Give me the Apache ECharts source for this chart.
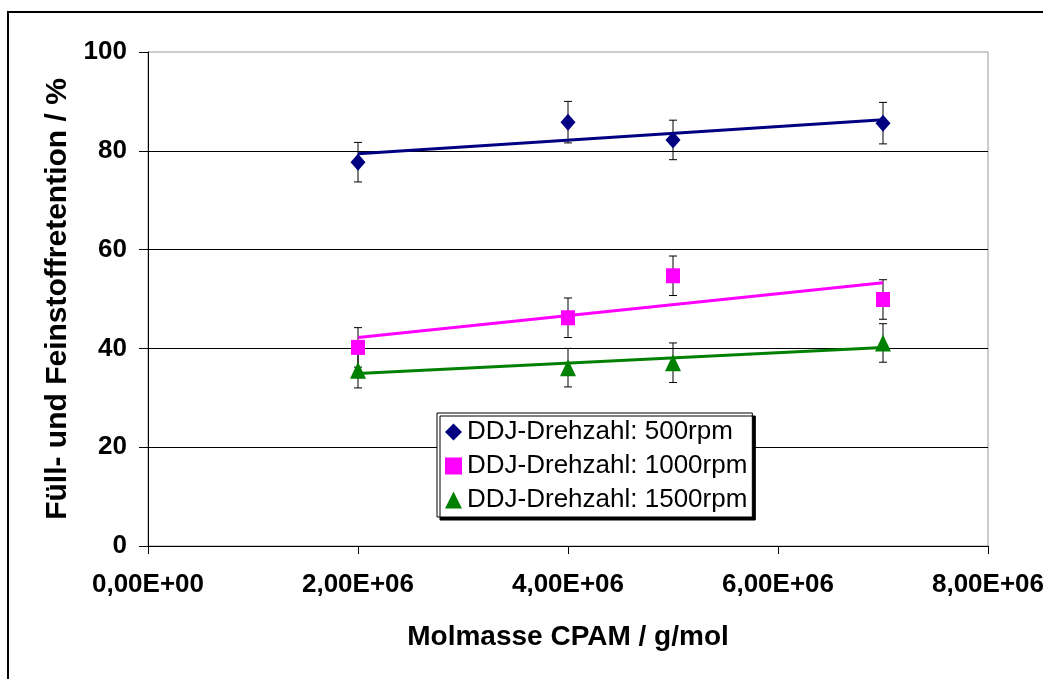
<!DOCTYPE html>
<html>
<head>
<meta charset="utf-8">
<title>Retention</title>
<script src="https://cdn.jsdelivr.net/npm/echarts@6/dist/echarts.min.js"></script>
<style>
  html, body { margin: 0; padding: 0; background: #fff; }
  #main { width: 1043px; height: 679px; }
</style>
</head>
<body>
<div id="main"></div>
<script type="text/javascript">
// Molmasse CPAM (g/mol)
var molmasse = [2e6, 4e6, 5e6, 7e6];

// Retention in %
var rpm500 = [77.7, 85.8, 82.2, 85.6];
var rpm1000 = [40.2, 46.2, 54.7, 49.9];
var rpm1500 = [35.6, 36.1, 37.1, 41.1];

// error bar half widths (+/-)
var err500 = [4.0, 4.2, 4.0, 4.2];
var err1000 = [4.0, 4.0, 4.0, 4.0];
var err1500 = [3.6, 3.9, 4.0, 3.9];

// trend lines, end points at first and last x
var trendX = [2e6, 7e6];
var trend500 = [79.4, 86.3];
var trend1000 = [42.2, 53.3];
var trend1500 = [34.9, 40.2];

var names = ['DDJ-Drehzahl: 500rpm', 'DDJ-Drehzahl: 1000rpm', 'DDJ-Drehzahl: 1500rpm'];
var colors = ['#000080', '#FF00FF', '#008000'];

var font = 'Liberation Sans, Arial, sans-serif';

function pairs(xs, ys) {
    var out = [];
    for (var i = 0; i < xs.length; i++) out.push([xs[i], ys[i]]);
    return out;
}
function triples(xs, ys, es) {
    var out = [];
    for (var i = 0; i < xs.length; i++) out.push([xs[i], ys[i], es[i]]);
    return out;
}

// 2000000 -> "2,00E+06"
function sci(v) {
    if (v === 0) return '0,00E+00';
    var e = Math.floor(Math.log10(Math.abs(v)));
    var m = v / Math.pow(10, e);
    var es = (e < 10 ? '0' : '') + e;
    return m.toFixed(2).replace('.', ',') + 'E+' + es;
}

function errorBars(api) {
    var x = api.value(0), y = api.value(1), e = api.value(2);
    var top = api.coord([x, y + e]);
    var bot = api.coord([x, y - e]);
    var cap = 4;
    var st = { stroke: '#000', lineWidth: 1 };
    return {
        type: 'group',
        children: [
            { type: 'line', shape: { x1: top[0], y1: top[1], x2: bot[0], y2: bot[1] }, style: st },
            { type: 'line', shape: { x1: top[0] - cap, y1: top[1], x2: top[0] + cap, y2: top[1] }, style: st },
            { type: 'line', shape: { x1: bot[0] - cap, y1: bot[1], x2: bot[0] + cap, y2: bot[1] }, style: st }
        ]
    };
}

var myChart = echarts.init(document.getElementById('main'));

var series = [];
var values = [rpm500, rpm1000, rpm1500];
var errs = [err500, err1000, err1500];
var trends = [trend500, trend1000, trend1500];
var symbols = ['diamond', 'rect', 'triangle'];
var sizes = [[15, 17], [14, 15], [16, 17]];

for (var k = 0; k < 3; k++) {
    series.push({
        type: 'custom',
        name: 'err' + k,
        renderItem: function (params, api) { return errorBars(api); },
        data: triples(molmasse, values[k], errs[k]),
        encode: { x: 0, y: 1 },
        silent: true,
        z: 2
    });
}
for (var k = 0; k < 3; k++) {
    series.push({
        type: 'line',
        name: 'trend' + k,
        data: pairs(trendX, trends[k]),
        symbol: 'none',
        lineStyle: { color: colors[k], width: 3 },
        silent: true,
        z: 3
    });
}
for (var k = 0; k < 3; k++) {
    series.push({
        type: 'scatter',
        name: names[k],
        data: pairs(molmasse, values[k]),
        symbol: symbols[k],
        symbolSize: sizes[k],
        itemStyle: { color: colors[k], opacity: 1 },
        z: 4
    });
}

myChart.setOption({
    animation: false,
    textStyle: { fontFamily: font },
    graphic: [{
        type: 'rect',
        shape: { x: 8, y: 12, width: 1200, height: 800 },
        style: { fill: 'none', stroke: '#000', lineWidth: 2 },
        z: 0
    }],
    grid: {
        left: 148, top: 52, right: 55, bottom: 133,
        outerBoundsMode: 'none',
        containLabel: false,
        show: true, borderColor: '#999', borderWidth: 1, backgroundColor: '#fff'
    },
    legend: {
        orient: 'vertical',
        left: 437, top: 413,
        padding: [6, 5, 4, 8],
        itemGap: 8,
        itemWidth: 17, itemHeight: 17,
        itemTextGap: 6,
        backgroundColor: '#fff',
        borderColor: '#000', borderWidth: 1,
        shadowColor: '#000', shadowBlur: 0, shadowOffsetX: 3, shadowOffsetY: 3,
        textStyle: { fontFamily: font, fontSize: 26, color: '#000' },
        data: [
            { name: names[0], icon: 'diamond', itemStyle: { color: colors[0] } },
            { name: names[1], icon: 'rect', itemStyle: { color: colors[1] } },
            { name: names[2], icon: 'triangle', itemStyle: { color: colors[2] } }
        ]
    },
    xAxis: {
        type: 'value',
        min: 0, max: 8e6, interval: 2e6,
        name: 'Molmasse CPAM / g/mol',
        nameLocation: 'middle',
        nameGap: 77,
        nameTextStyle: { fontFamily: font, fontSize: 28, fontWeight: 'bold', color: '#000' },
        axisLine: { show: true, onZero: false, lineStyle: { color: '#000', width: 1 } },
        axisTick: { show: true, inside: false, length: 8, lineStyle: { color: '#000' } },
        axisLabel: {
            formatter: sci, margin: 26,
            fontFamily: font, fontSize: 26, fontWeight: 'bold', color: '#000'
        },
        splitLine: { show: false }
    },
    yAxis: {
        type: 'value',
        min: 0, max: 100, interval: 20,
        name: 'Füll- und Feinstoffretention / %',
        nameLocation: 'middle',
        nameGap: 64,
        nameTextStyle: { fontFamily: font, fontSize: 30, fontWeight: 'bold', color: '#000' },
        axisLine: { show: true, lineStyle: { color: '#000', width: 1 } },
        axisTick: { show: true, inside: false, length: 9, lineStyle: { color: '#000' } },
        axisLabel: {
            margin: 21,
            fontFamily: font, fontSize: 26, fontWeight: 'bold', color: '#000'
        },
        splitLine: { show: true, showMaxLine: false, lineStyle: { color: '#000', width: 1 } }
    },
    series: series
});

window.onresize = function () {
    myChart.resize();
};
</script>
</body>
</html>
